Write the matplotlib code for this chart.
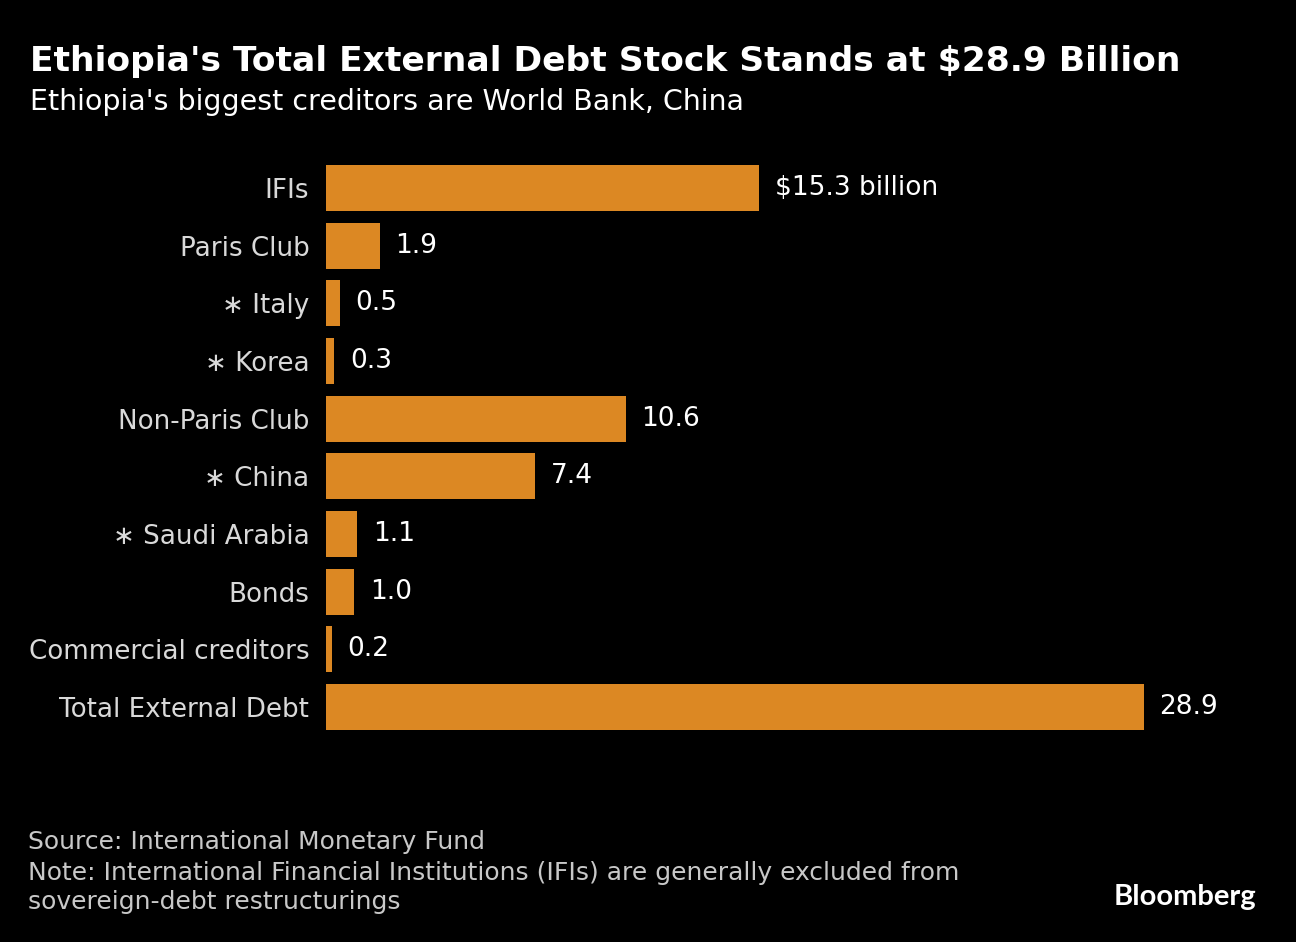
import matplotlib.pyplot as plt

categories = ["IFIs", "Paris Club", "\u2217 Italy", "\u2217 Korea", "Non-Paris Club",
              "\u2217 China", "\u2217 Saudi Arabia", "Bonds", "Commercial creditors",
              "Total External Debt"]
values = [15.3, 1.9, 0.5, 0.3, 10.6, 7.4, 1.1, 1.0, 0.2, 28.9]
value_labels = ["$15.3 billion", "1.9", "0.5", "0.3", "10.6", "7.4", "1.1", "1.0", "0.2", "28.9"]

plt.rcParams["font.family"] = ["DejaVu Sans"]

fig = plt.figure(figsize=(12.96, 9.42), dpi=100, facecolor="black")
ax = fig.add_axes([326 / 1296, 0.2189, 818 / 1296, 0.6121], facecolor="black")

pos = list(range(len(values)))
ax.barh(pos, values, height=0.8, color="#dc8823")
for p, v, lab in zip(pos, values, value_labels):
    ax.text(v + 0.55, p, lab, color="white", fontsize=19, va="center", ha="left")

ax.set_xlim(0, 28.9)
ax.set_ylim(9.5, -0.5)
ax.set_yticks(pos)
ax.set_yticklabels(categories, color="#d9d9d9", fontsize=18.8)
ax.tick_params(axis="y", length=0, pad=12)
ax.set_xticks([])
for s in ax.spines.values():
    s.set_visible(False)

# titres
fig.text(30 / 1296, 1 - 62 / 942, "Ethiopia's Total External Debt Stock Stands at $28.9 Billion",
         color="white", fontsize=24.8, fontweight="bold", va="center", ha="left")
fig.text(30 / 1296, 1 - 102 / 942, "Ethiopia's biggest creditors are World Bank, China",
         color="white", fontsize=20.5, va="center", ha="left")

# source et note
fig.text(28 / 1296, 1 - 842 / 942, "Source: International Monetary Fund",
         color="#c8c8c8", fontsize=18, va="center", ha="left")
fig.text(28 / 1296, 1 - 873 / 942,
         "Note: International Financial Institutions (IFIs) are generally excluded from",
         color="#c8c8c8", fontsize=18, va="center", ha="left")
fig.text(28 / 1296, 1 - 902 / 942, "sovereign-debt restructurings",
         color="#c8c8c8", fontsize=18, va="center", ha="left")
fig.text(1256 / 1296, 1 - 897 / 942, "Bloomberg", color="white", fontsize=21,
         fontweight="bold", va="center", ha="right", family=["Lato", "DejaVu Sans"])

fig.savefig("out.png", dpi=100, facecolor="black")
